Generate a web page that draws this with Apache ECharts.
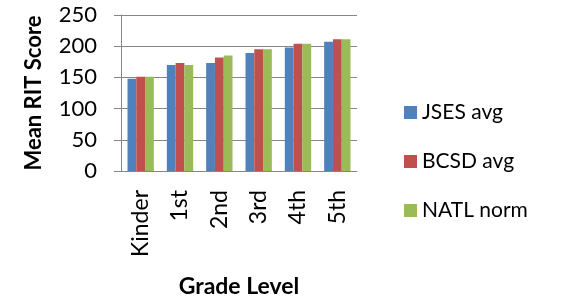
<!DOCTYPE html>
<html>
<head>
<meta charset="utf-8">
<script src="https://cdn.jsdelivr.net/npm/echarts@6/dist/echarts.min.js"></script>
<style>
  html, body { margin: 0; padding: 0; background: #fff; }
  #chart { width: 561px; height: 303px; }
</style>
</head>
<body>
<div id="chart"></div>
<script>
// Mean RIT score by grade level, three comparison groups
const grades = ["Kinder", "1st", "2nd", "3rd", "4th", "5th"];
const jsesAvg = [148, 170, 173, 189, 198, 207];
const bcsdAvg = [151, 173, 182, 195, 204, 211];
const natlNorm = [151, 170, 185, 195, 204, 211];

const FONT = "Lato, 'Open Sans', sans-serif";
const AXIS_GREY = "#868686";

const chart = echarts.init(document.getElementById("chart"), null, { renderer: "canvas" });

const bar = (name, data, color) => ({
  name,
  type: "bar",
  data,
  barGap: "0%",
  barCategoryGap: "33%",
  itemStyle: { color },
});

chart.setOption({
  animation: false,
  textStyle: { fontFamily: FONT },
  grid: { left: 121, right: 204, top: 15, bottom: 129, containLabel: false },
  legend: {
    orient: "vertical",
    left: 399,
    top: 97,
    itemWidth: 13,
    itemHeight: 13,
    itemGap: 28,
    icon: "rect",
    textStyle: { fontSize: 21, lineHeight: 21, color: "#000", fontFamily: FONT },
    data: ["JSES avg", "BCSD avg", "NATL norm"],
  },
  xAxis: {
    type: "category",
    data: grades,
    name: "Grade Level",
    nameLocation: "center",
    nameGap: 104,
    nameTextStyle: { fontSize: 23, fontWeight: "bold", color: "#000", fontFamily: FONT },
    axisLine: { lineStyle: { color: AXIS_GREY } },
    axisTick: { length: 7, lineStyle: { color: AXIS_GREY } },
    axisLabel: { rotate: 90, fontSize: 23, color: "#000", margin: 19, fontFamily: FONT },
  },
  yAxis: {
    type: "value",
    min: 0,
    max: 250,
    interval: 50,
    name: "Mean RIT Score",
    nameLocation: "center",
    nameGap: 76,
    nameRotate: 90,
    nameTextStyle: { fontSize: 22, fontWeight: "bold", color: "#000", fontFamily: FONT },
    axisLine: { show: true, lineStyle: { color: AXIS_GREY } },
    axisTick: { show: true, length: 7, lineStyle: { color: AXIS_GREY } },
    axisLabel: { fontSize: 22, color: "#000", margin: 24, fontFamily: FONT },
    splitLine: { lineStyle: { color: AXIS_GREY, width: 1 } },
  },
  series: [
    bar("JSES avg", jsesAvg, "#4f81bd"),
    bar("BCSD avg", bcsdAvg, "#c0504d"),
    bar("NATL norm", natlNorm, "#9bbb59"),
  ],
});
</script>
</body>
</html>
